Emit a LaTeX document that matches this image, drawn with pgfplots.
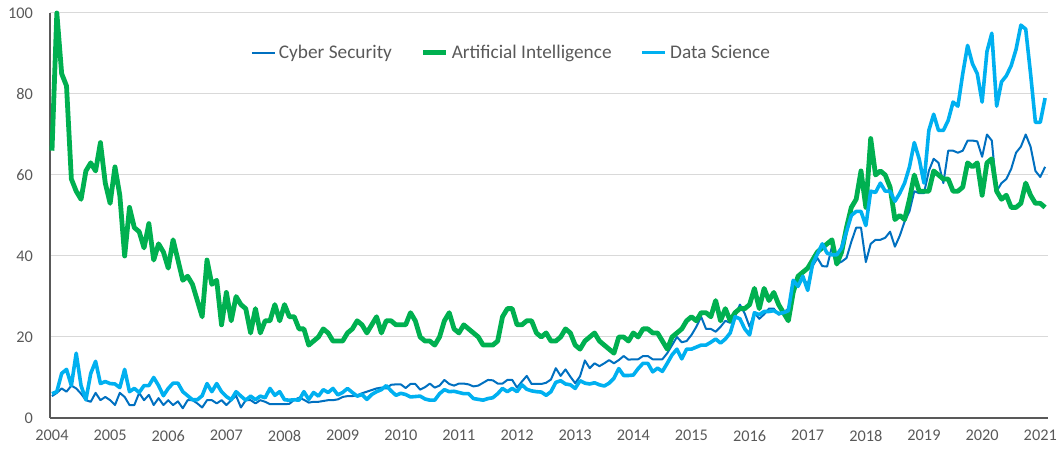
\documentclass[border=0pt]{standalone}
\usepackage{pgfplots}
\pgfplotsset{compat=1.18}
\usepackage{pgfplotstable}
\usepackage{fontspec}
\setmainfont{Carlito}
\definecolor{csblue}{HTML}{0070C0}
\definecolor{aigreen}{HTML}{00B050}
\definecolor{dsblue}{HTML}{00B0F0}
\definecolor{txtgray}{HTML}{595959}
\definecolor{gridgray}{HTML}{D9D9D9}
\definecolor{axgray}{HTML}{595959}
\pgfplotstableread{
m cs ai ds
0 5.4 66 6
1 6.2 100 6.5
2 7.3 85 11
3 6.5 82 12
4 8 59 8
5 7.3 56 16
6 6 54 8
7 4.4 61 4.5
8 4 63 11
9 6.2 61 14
10 4.4 68 8.5
11 5.2 58 9
12 4.4 53 8.5
13 3.2 62 8.4
14 6.2 55 7.5
15 5.2 40 12
16 3.2 52 6.5
17 3.2 47 7.3
18 6.2 46 6.3
19 4.4 42 8
20 5.7 48 8
21 3.2 39 10
22 4.9 43 8
23 3.2 41 5.5
24 4.4 37 7.3
25 3.2 44 8.6
26 4.1 39 8.6
27 2.4 34 6.5
28 4.4 35 5.5
29 4.4 33 4.5
30 3.6 29 4.5
31 2.6 25 5.5
32 4.4 39 8.5
33 4.4 33 6.5
34 3.6 34 8.5
35 4.4 23 6.5
36 3.2 31 5.3
37 4.4 24 4.5
38 5.5 30 6.5
39 2.6 28 5.4
40 4.4 27 4.4
41 4.4 21 5.4
42 3.6 27 4.5
43 4.4 21 5.4
44 4 24 5
45 3.4 24 7.3
46 3.4 28 5.6
47 3.4 24 6.5
48 3.4 28 4.5
49 3.5 25 4.4
50 4.5 25 4.5
51 5 22 4.4
52 4.5 22 6.5
53 3.8 18 4.6
54 4 19 6.3
55 4 20 5.4
56 4.2 22 7
57 4.4 21 6.3
58 4.4 19 7.3
59 4.6 19 5.7
60 5.2 19 6.3
61 5.4 21 7.3
62 5.4 22 6.3
63 5.6 24 5.4
64 6.1 23 5.8
65 6.5 21 4.6
66 6.9 23 5.8
67 7.3 25 6.5
68 7.5 21 7
69 7.3 24 8
70 8.2 24 6.7
71 8.3 23 5.6
72 8.3 23 6.1
73 7.4 23 5.8
74 8.4 26 5.2
75 8.4 24 5.3
76 7 20 5.4
77 7.6 19 4.7
78 8.5 19 4.4
79 7.5 18 4.4
80 8 20 6
81 9.4 24 7
82 8.4 26 6.5
83 8 22 6.6
84 8.5 21 6.3
85 8.5 23 6
86 8.3 22 6
87 7.8 21 4.8
88 8 20 4.6
89 8.7 18 4.4
90 9.4 18 4.8
91 9.3 18 5
92 8.5 19 6
93 8.5 25 7.3
94 9.4 27 6.5
95 9.4 27 7.3
96 7.5 23 6.5
97 9 23 8.2
98 10.4 24 7.1
99 8.4 24 6.7
100 8.4 21 6.5
101 8.4 20 6.4
102 8.7 21 5.6
103 9.5 19 6.5
104 12.3 19 8.8
105 10.4 20 9.2
106 12 22 8.4
107 10.2 21 8.2
108 8.6 18 7.3
109 10.3 17 9.2
110 14.2 19 8.6
111 12.3 20 8.4
112 13.5 21 8.7
113 12.8 19 8.2
114 13.5 18 7.9
115 14.3 17 8.6
116 13.5 16 9.8
117 14.3 20 12.2
118 15.3 20 10.5
119 14.4 19 10.5
120 14.5 21 10.6
121 14.5 20 12.2
122 15.3 22 13.5
123 15.3 22 13.5
124 14.5 21 11.4
125 14.5 21 12.3
126 14.5 19 11.5
127 16 17 13.5
128 18 20 15.6
129 20 21 17
130 18.7 22 14.6
131 19 24 17
132 20.5 25 17
133 22.5 24 17.5
134 25 26 18
135 22 26 18
136 22 25 18.7
137 21.3 29 19.5
138 22.5 24 18.5
139 24 27 19.5
140 23.5 24 21
141 25 26 25
142 28 27 24.5
143 25.8 27 22
144 22.5 28 20.5
145 26 32 26
146 24.5 27 25.5
147 25.6 32 26.3
148 27 29 26.3
149 27 31 26.5
150 25.5 28 25.8
151 26 26 26
152 27 24 26.5
153 34 31 34
154 33 35 32.5
155 34.5 36 35
156 33 37 31.5
157 37.5 39 38
158 39.5 41 40.5
159 37.5 42 43
160 37.4 43 40.7
161 42.3 44 40.3
162 38 38 40.3
163 38.6 41 42
164 39.5 47 46
165 43.5 52 50
166 47 54 51
167 47 61 51
168 38.5 52 47.5
169 43 69 56
170 44 60 55.7
171 44 61 58
172 44.5 60 56
173 46 57 56
174 42.3 49 53.5
175 45 50 55.5
176 48.5 49 58
177 51 54 62
178 56 60 68
179 55.5 56 64
180 55.5 56 58
181 61 56 71
182 64 61 75
183 63 60 71
184 58 59 71
185 66 59 73.5
186 66 56 78
187 65.5 56 77
188 66 57 85
189 68.5 63 92
190 68.5 62 87.5
191 68.3 63 85
192 64.5 55 78
193 70 63 90.5
194 68.5 64 95
195 56 56 77
196 58 54 83
197 59 55 84.5
198 61.5 52 87
199 65.5 52 91
200 67 53 97
201 70 58 96
202 67 55 85
203 61 53 73
204 59.5 53 73
205 62 52 79
}\trends
\begin{document}
\begin{tikzpicture}
\useasboundingbox (-50pt,-31pt) rectangle (1007pt,418pt);
\begin{axis}[
  at={(0pt,0pt)}, anchor=south west,
  scale only axis,
  width=998pt, height=405pt,
  xmin=-0.41, xmax=205.6,
  ymin=0, ymax=100,
  clip=false,
  axis x line=bottom, axis y line=left,
  axis line style={-, draw=axgray, line width=1.2pt},
  xtick={0,12,...,204},
  xticklabels={2004,2005,2006,2007,2008,2009,2010,2011,2012,2013,2014,2015,2016,2017,2018,2019,2020,2021},
  ytick={0,20,40,60,80,100},
  major tick length=0pt,
  ymajorgrids,
  major grid style={draw=gridgray, line width=1pt},
  /pgf/number format/assume math mode=true,
  tick label style={font=\fontsize{16.3}{19}\selectfont, text=txtgray},
  xticklabel style={anchor=north, inner sep=0pt, yshift=-12pt},
  yticklabel style={anchor=east, inner sep=0pt, xshift=-17pt},
  legend columns=3,
  legend style={at={(0.4614,0.902)}, anchor=center, draw=none, fill=none,
    font=\fontsize{19.3}{22}\selectfont, text=txtgray,
    nodes={inner sep=0pt},
    /tikz/every odd column/.append style={column sep=3pt},
    /tikz/every even column/.append style={column sep=29pt}},
  legend cell align=left,
  legend image code/.code={\draw[#1] (0pt,0pt) -- (23pt,0pt);},
]
\addplot[csblue, line width=2pt, line join=round] table[x=m, y=cs] {\trends};
\addlegendentry{Cyber Security}
\addplot[aigreen, line width=4.8pt, line join=round] table[x=m, y=ai] {\trends};
\addlegendentry{Artificial Intelligence}
\addplot[dsblue, line width=3.6pt, line join=round] table[x=m, y=ds] {\trends};
\addlegendentry{Data Science}
\end{axis}
\end{tikzpicture}
\end{document}
